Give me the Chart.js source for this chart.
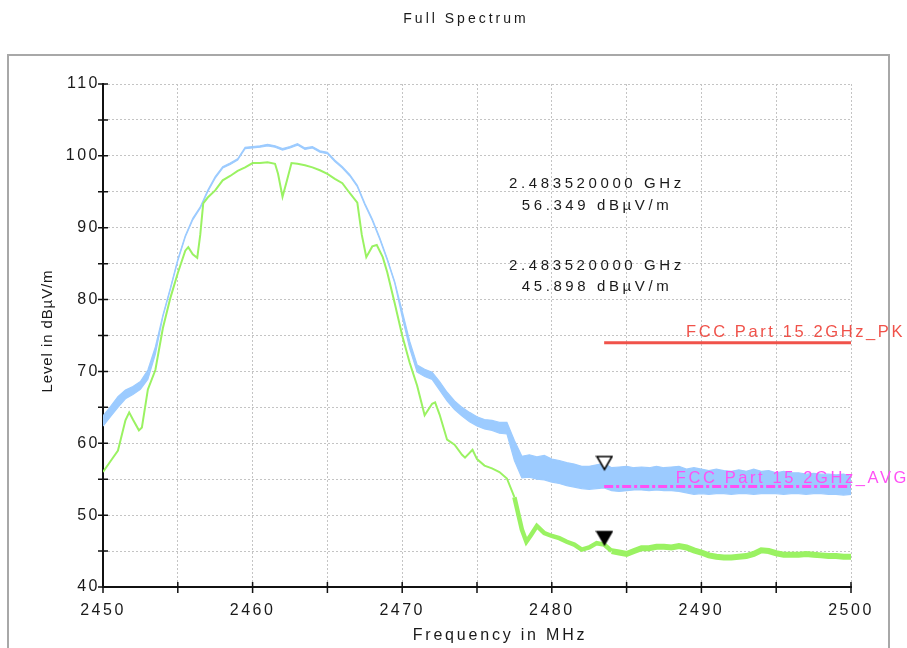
<!DOCTYPE html>
<html><head><meta charset="utf-8">
<script src="https://cdn.jsdelivr.net/npm/chart.js@4"></script>
<style>html,body{margin:0;padding:0;background:#fff}canvas{display:block}</style>
</head><body>
<canvas id="c" width="907" height="648"></canvas>
<script>
const chartTitle = 'Full Spectrum';
const xAxisTitle = 'Frequency in MHz';
const yAxisTitle = 'Level in dBµV/m';
const xTickValues = [2450,2455,2460,2465,2470,2475,2480,2485,2490,2495,2500];
const xTickLabels = ['2450','2460','2470','2480','2490','2500'];
const yTickValues = [40,45,50,55,60,65,70,75,80,85,90,95,100,105,110];
const yTickLabels = ['40','50','60','70','80','90','100','110'];

const blueFreq = [2450,2450.5,2451,2451.5,2452,2452.5,2453,2453.5,2454,2454.5,
 2455,2455.5,2456,2456.5,2457,2457.5,2458,2458.5,2459,2459.5,
 2460,2460.5,2461,2461.5,2462,2462.5,2463,2463.5,2464,2464.5,
 2465,2465.5,2466,2466.5,2467,2467.5,2468,2468.5,2469,2469.5,
 2470,2470.5,2471,2471.5,2472,2472.5,2473,2473.5,2474,2474.5,
 2475,2475.5,2476,2476.5,2477,2477.5,2478,2478.5,2479,2479.5,
 2480,2480.5,2481,2481.5,2482,2482.5,2483,2483.5,2484,2484.5,
 2485,2485.5,2486,2486.5,2487,2487.5,2488,2488.5,2489,2489.5,
 2490,2490.5,2491,2491.5,2492,2492.5,2493,2493.5,2494,2494.5,
 2495,2495.5,2496,2496.5,2497,2497.5,2498,2498.5,2499,2499.5,2500];
const bluePeakMax = [63.8,65.1,66.5,67.4,67.9,68.6,70.2,73.4,77.8,81.6,
 85.6,88.9,91.3,92.9,95.2,97.1,98.5,99.0,99.6,101.2,
 101.3,101.4,101.6,101.4,101.0,101.3,101.7,101.1,101.3,100.7,
 100.5,99.4,98.5,97.4,95.9,93.4,91.2,88.6,85.7,82.5,
 78.4,74.2,70.9,70.3,69.9,68.6,67.1,65.9,65.0,64.3,
 63.7,63.3,63.2,62.9,62.9,60.4,58.2,58.4,58.1,58.3,
 57.8,57.6,57.3,57.1,56.8,56.8,57.0,57.2,56.6,56.7,
 56.8,56.6,56.7,56.6,56.8,56.6,56.7,56.8,56.4,56.6,
 56.4,56.2,56.4,56.2,56.1,56.3,56.1,56.4,56.1,56.2,
 55.9,56.1,55.9,55.9,55.7,55.8,55.7,55.7,55.6,55.7,55.4];
const bluePeakMin = [62.4,63.7,65.0,66.2,66.8,67.5,68.9,72.4,77.6,81.4,
 85.4,88.7,91.1,92.7,95.0,96.9,98.3,98.8,99.4,101.0,
 101.1,101.2,101.4,101.2,100.8,101.1,101.5,100.9,101.1,100.5,
 100.3,99.2,98.3,97.2,95.7,93.2,91.0,88.4,85.5,82.3,
 77.6,73.2,69.9,69.3,68.9,67.4,65.9,64.7,63.8,63.0,
 62.4,62.0,61.8,61.4,61.3,57.6,55.2,55.3,55.0,54.9,
 54.6,54.4,54.1,53.9,53.7,53.6,53.7,53.8,53.4,53.3,
 53.4,53.5,53.5,53.4,53.5,53.4,53.4,53.3,53.1,52.9,
 53.0,52.9,53.0,53.0,52.9,53.0,53.0,52.9,53.0,53.0,
 53.0,52.9,53.0,53.0,52.9,53.0,53.0,52.9,52.9,52.8,52.9];

const greenFreq = [2450,2450.5,2451,2451.5,2451.75,2452,2452.4,2452.6,2453,2453.5,
 2454,2454.5,2455,2455.5,2455.7,2456,2456.3,2456.5,2456.7,2457,
 2457.5,2458,2458.5,2459,2459.5,2460,2460.5,2461,2461.5,2461.7,
 2462,2462.3,2462.6,2463,2463.5,2464,2464.5,2465,2465.5,2466,
 2466.5,2467,2467.3,2467.6,2468,2468.3,2468.7,2469,2469.5,2470,
 2470.5,2471,2471.5,2472,2472.2,2472.5,2473,2473.5,2474,2474.2,
 2474.7,2475,2475.5,2476,2476.5,2477,2477.5,2478,2478.3,2478.6,
 2479,2479.5,2480,2480.5,2481,2481.5,2482,2482.5,2483,2483.5,
 2484,2484.5,2485,2485.5,2486,2486.5,2487,2487.5,2488,2488.5,
 2489,2489.5,2490,2490.5,2491,2491.5,2492,2492.5,2493,2493.5,
 2494,2494.5,2495,2495.5,2496,2496.5,2497,2497.5,2498,2498.5,
 2499,2499.5,2500];
const greenAvg = [56.0,57.5,59.0,63.2,64.3,63.3,61.8,62.2,67.5,70.2,
 76.0,80.2,83.7,86.8,87.3,86.3,85.8,89.0,93.4,94.2,
 95.2,96.6,97.2,97.9,98.4,99.0,99.0,99.1,98.9,97.5,
 94.3,96.6,99.0,98.9,98.7,98.4,98.0,97.5,96.8,96.2,
 94.8,93.5,89.0,85.9,87.4,87.6,85.9,83.8,79.5,75.0,
 71.2,68.0,63.9,65.5,65.7,64.0,60.5,59.8,58.4,58.0,
 59.1,57.8,56.9,56.5,56.0,55.1,52.5,48.0,46.3,47.2,
 48.5,47.5,47.1,46.8,46.3,45.9,45.2,45.5,46.1,45.9,
 45.0,44.8,44.6,45.0,45.4,45.4,45.6,45.6,45.5,45.7,
 45.5,45.1,44.8,44.4,44.2,44.1,44.1,44.2,44.3,44.6,
 45.1,45.0,44.7,44.5,44.5,44.5,44.6,44.5,44.4,44.3,
 44.3,44.2,44.2];

const limitFreq = [2483.5, 2500];
const limitPK = [74, 74];
const limitAVG = [54, 54];
const limitNames = ['FCC Part 15 2GHz_PK', 'FCC Part 15 2GHz_AVG'];
const markerFreq = [2483.52, 2483.52];
const markerLevel = [56.349, 45.898];

const FONT = 'Liberation Sans, Arial, sans-serif';
const BLUE = '#9ccbff', GREEN = '#9af262', RED = '#f0524a', MAGENTA = '#ff50f5';

function pts(xs, ys){ return xs.map((x,i)=>({x:x, y:ys[i]})); }
function tri(filled){
  const c = document.createElement('canvas'); c.width = 18; c.height = 30;
  const g = c.getContext('2d');
  g.beginPath(); g.moveTo(1.5,2); g.lineTo(16.5,2); g.lineTo(9,15); g.closePath();
  g.fillStyle = filled ? '#000' : '#fff'; g.fill();
  g.lineWidth = 1.6; g.strokeStyle = '#000'; g.stroke();
  return c;
}

const decor = {
  id: 'decor',
  beforeDraw(chart){
    const ctx = chart.ctx;
    ctx.save();
    ctx.fillStyle = '#fff'; ctx.fillRect(0,0,chart.width,chart.height);
    ctx.strokeStyle = '#a8a8a8'; ctx.lineWidth = 2;
    ctx.strokeRect(8, 55, 881, 620);
    ctx.restore();
    ctx.letterSpacing = '2.5px';
  },
  afterDraw(chart){
    const ctx = chart.ctx, xs = chart.scales.x, ys = chart.scales.y, a = chart.chartArea;
    ctx.save();
    ctx.strokeStyle = '#111'; ctx.lineWidth = 1.5;
    ctx.beginPath();
    xs.ticks.forEach(t => { const p = xs.getPixelForValue(t.value); ctx.moveTo(p, a.bottom - 5); ctx.lineTo(p, a.bottom + 6); });
    ys.ticks.forEach(t => { const p = ys.getPixelForValue(t.value); ctx.moveTo(a.left - 5, p); ctx.lineTo(a.left + 5, p); });
    ctx.stroke();
    ctx.fillStyle = '#1a1a1a';
    ctx.textAlign = 'center'; ctx.textBaseline = 'middle';
    // title
    ctx.letterSpacing = '3px';
    ctx.font = '14px ' + FONT;
    ctx.fillText(chartTitle, 466, 19);
    // axis titles
    ctx.letterSpacing = '2.8px';
    ctx.font = '16px ' + FONT;
    ctx.fillText(xAxisTitle, 500, 636);
    ctx.save();
    ctx.translate(48, 331); ctx.rotate(-Math.PI/2);
    ctx.letterSpacing = '0.9px';
    ctx.font = '15px ' + FONT;
    ctx.fillText(yAxisTitle, 0, 0);
    ctx.restore();
    // marker readouts
    ctx.letterSpacing = '3.6px';
    ctx.font = '15px ' + FONT;
    const yPos = [[184,206],[266,287]];
    markerFreq.forEach((f,i) => {
      ctx.fillText((f/1000).toFixed(9) + ' GHz', 597, yPos[i][0]);
      ctx.fillText(markerLevel[i].toFixed(3) + ' dBµV/m', 597, yPos[i][1]);
    });
    // limit labels
    ctx.letterSpacing = '2.6px';
    ctx.font = '16.5px ' + FONT; ctx.textAlign = 'right';
    ctx.fillStyle = RED;
    ctx.fillText(limitNames[0], 905, ys.getPixelForValue(limitPK[1]) - 10);
    ctx.fillStyle = MAGENTA;
    ctx.fillText(limitNames[1], 909, ys.getPixelForValue(limitAVG[1]) - 8);
    ctx.restore();
  }
};

new Chart(document.getElementById('c'), {
  type: 'line',
  data: {
    datasets: [
      { data: pts([markerFreq[0]],[markerLevel[0]]), showLine:false, pointStyle: tri(false), pointRadius: 9, borderWidth:0 },
      { data: pts([markerFreq[1]],[markerLevel[1]]), showLine:false, pointStyle: tri(true), pointRadius: 9, borderWidth:0 },
      { data: pts(limitFreq, limitPK), borderColor: RED, borderWidth: 3, pointRadius: 0 },
      { data: pts(limitFreq, limitAVG), borderColor: MAGENTA, borderWidth: 3, borderDash: [9,3,3,3], pointRadius: 0 },
      { data: pts(greenFreq, greenAvg), borderColor: GREEN, borderWidth: 2, pointRadius: 0,
        segment: { borderWidth: c => c.p0.parsed.x >= 2484 ? 6 : (c.p0.parsed.x >= 2477.5 ? 4.5 : 2) } },
      { data: pts(blueFreq, bluePeakMax), borderColor: BLUE, borderWidth: 1.2, pointRadius: 0, fill: false },
      { data: pts(blueFreq, bluePeakMin), borderColor: BLUE, borderWidth: 1.2, pointRadius: 0, fill: '-1', backgroundColor: BLUE }
    ]
  },
  options: {
    responsive: false, animation: false,
    layout: { padding: { top: 84, right: 56, bottom: 0, left: 0 } },
    plugins: { legend: { display: false }, tooltip: { enabled: false }, title: { display: false } },
    elements: { line: { tension: 0 } },
    scales: {
      x: {
        type: 'linear', min: 2450, max: 2500,
        afterBuildTicks: s => { s.ticks = xTickValues.map(v => ({ value: v })); },
        afterFit: s => { s.height = 61; },
        ticks: { autoSkip: false, maxRotation: 0, padding: 14, color: '#1a1a1a', font: { family: FONT, size: 16 },
                 callback: v => xTickLabels.includes(String(v)) ? String(v) : '' },
        grid: { color: '#c4c4c4', lineWidth: 1, drawTicks: false },
        border: { display: true, color: '#111', width: 2, dash: [2,2] },
        title: { display: false }
      },
      y: {
        type: 'linear', min: 40, max: 110,
        afterBuildTicks: s => { s.ticks = yTickValues.map(v => ({ value: v })); },
        afterFit: s => { s.width = 103; },
        ticks: { autoSkip: false, padding: 3, color: '#1a1a1a', font: { family: FONT, size: 16 },
                 callback: v => yTickLabels.includes(String(v)) ? String(v) : '' },
        grid: { color: '#c4c4c4', lineWidth: 1, drawTicks: false },
        border: { display: true, color: '#111', width: 2, dash: [2,2] },
        title: { display: false }
      }
    }
  },
  plugins: [decor]
});
</script>
</body></html>
